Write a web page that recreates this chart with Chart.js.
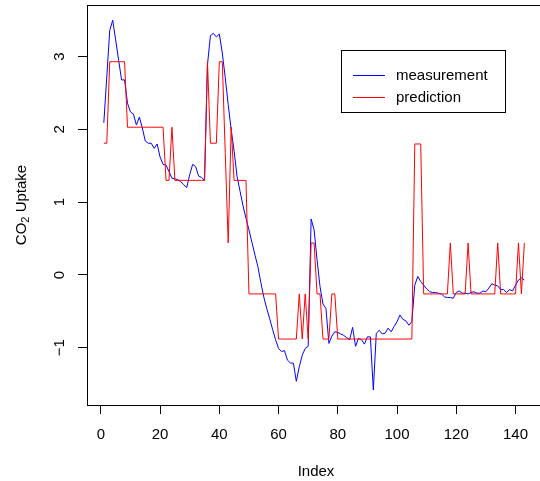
<!DOCTYPE html>
<html>
<head>
<meta charset="utf-8">
<script src="https://cdn.jsdelivr.net/npm/chart.js@4/dist/chart.umd.min.js"></script>
<style>
    html, body { margin: 0; padding: 0; background: #fff; }
    #wrap { width: 540px; height: 481px; position: relative; }
</style>
</head>
<body>
<div id="wrap"><canvas id="chart"></canvas></div>
<script>
/* ============================
   Datos
============================ */
const FONT = '"Liberation Sans", Arial, Helvetica, sans-serif'

const X_TICKS = [0, 20, 40, 60, 80, 100, 120, 140]
const Y_TICKS = [-1, 0, 1, 2, 3]

const MEASUREMENT = [
    2.09, 2.72, 3.36, 3.50, 3.23, 2.95, 2.68, 2.68, 2.36, 2.24,
    2.21, 2.06, 2.17, 2.02, 1.84, 1.81, 1.81, 1.74, 1.80, 1.62,
    1.52, 1.51, 1.42, 1.33, 1.32, 1.31, 1.28, 1.24, 1.20, 1.38,
    1.52, 1.49, 1.36, 1.34, 1.30, 2.89, 3.29, 3.32, 3.27, 3.31,
    3.05, 2.71, 2.34, 2.00, 1.70, 1.35, 1.15, 0.95, 0.78, 0.62,
    0.45, 0.28, 0.12, -0.10, -0.30, -0.46, -0.60, -0.75, -0.89, -1.01,
    -1.05, -1.04, -1.17, -1.21, -1.21, -1.46, -1.26, -1.10, -1.01, -0.98,
    0.77, 0.62, 0.21, -0.16, -0.40, -0.46, -0.94, -0.84, -0.78, -0.79,
    -0.81, -0.83, -0.86, -0.89, -0.72, -0.98, -0.87, -0.89, -0.95, -0.85,
    -0.85, -1.58, -0.80, -0.76, -0.81, -0.80, -0.73, -0.78, -0.71, -0.64,
    -0.55, -0.61, -0.63, -0.69, -0.64, -0.14, -0.02, -0.09, -0.14, -0.19,
    -0.23, -0.24, -0.24, -0.25, -0.26, -0.30, -0.31, -0.31, -0.32, -0.24,
    -0.22, -0.25, -0.25, -0.26, -0.24, -0.23, -0.25, -0.25, -0.22, -0.23,
    -0.18, -0.12, -0.14, -0.15, -0.20, -0.20, -0.24, -0.20, -0.22, -0.14,
    -0.07, -0.04, -0.07
]

const PREDICTION = [
    1.81, 1.81, 2.93, 2.93, 2.93, 2.93, 2.93, 2.93, 2.03, 2.03,
    2.03, 2.03, 2.03, 2.03, 2.03, 2.03, 2.03, 2.03, 2.03, 2.03,
    2.03, 1.30, 1.30, 2.03, 1.30, 1.30, 1.30, 1.30, 1.30, 1.30,
    1.30, 1.30, 1.30, 1.30, 1.30, 2.93, 1.81, 1.81, 1.81, 2.93,
    2.93, 1.68, 0.44, 2.03, 1.30, 1.30, 1.30, 1.30, 1.30, -0.26,
    -0.26, -0.26, -0.26, -0.26, -0.26, -0.26, -0.26, -0.26, -0.26, -0.88,
    -0.88, -0.88, -0.88, -0.88, -0.88, -0.88, -0.26, -0.88, -0.26, -0.88,
    0.44, 0.44, -0.26, -0.26, -0.88, -0.88, -0.88, -0.26, -0.26, -0.88,
    -0.88, -0.88, -0.88, -0.88, -0.88, -0.88, -0.88, -0.88, -0.88, -0.88,
    -0.88, -0.88, -0.88, -0.88, -0.88, -0.88, -0.88, -0.88, -0.88, -0.88,
    -0.88, -0.88, -0.88, -0.88, -0.88, 1.80, 1.80, 1.80, -0.26, -0.26,
    -0.26, -0.26, -0.26, -0.26, -0.26, -0.26, -0.26, 0.44, -0.26, -0.26,
    -0.26, -0.26, -0.26, 0.44, -0.26, -0.26, -0.26, -0.26, -0.26, -0.26,
    -0.26, -0.26, -0.26, 0.44, -0.26, -0.26, -0.26, -0.26, -0.26, -0.26,
    0.44, -0.26, 0.44
]

const INDEX = MEASUREMENT.map((_, i) => i + 1)

const fmt = v => (v < 0 ? '\u2212' + Math.abs(v) : String(v))

/* ============================
   Marco estilo R: caja, etiquetas Y, títulos, leyenda
============================ */
const rFrame = {
    id: 'rFrame',
    afterDraw(chart) {
        const { ctx, chartArea: a, scales: { y } } = chart
        ctx.save()
        ctx.strokeStyle = '#000'
        ctx.lineWidth = 1
        ctx.strokeRect(a.left + 0.5, a.top + 0.5, a.right - a.left + 10, a.bottom - a.top)

        ctx.fillStyle = '#000'
        ctx.font = `15px ${FONT}`
        ctx.textAlign = 'center'
        ctx.textBaseline = 'middle'

        // etiquetas eje Y (rotadas como en R)
        Y_TICKS.forEach(v => {
            ctx.save()
            ctx.translate(60, y.getPixelForValue(v))
            ctx.rotate(-Math.PI / 2)
            ctx.fillText(fmt(v), 0, 0)
            ctx.restore()
        })

        // título eje X
        ctx.fillText('Index', 316, 472)

        // título eje Y: CO2 Uptake con subíndice
        ctx.save()
        ctx.translate(22, (a.top + a.bottom) / 2)
        ctx.rotate(-Math.PI / 2)
        ctx.textAlign = 'left'
        const big = `15px ${FONT}`
        const small = `11px ${FONT}`
        ctx.font = big
        const wCO = ctx.measureText('CO').width
        const wRest = ctx.measureText(' Uptake').width
        ctx.font = small
        const w2 = ctx.measureText('2').width
        const x0 = -(wCO + w2 + wRest) / 2
        ctx.font = big
        ctx.fillText('CO', x0, 0)
        ctx.font = small
        ctx.fillText('2', x0 + wCO, 4)
        ctx.font = big
        ctx.fillText(' Uptake', x0 + wCO + w2, 0)
        ctx.restore()

        // leyenda
        ctx.strokeStyle = '#000'
        ctx.strokeRect(341.5, 50.5, 164, 62)
        const items = [
            { label: 'measurement', color: '#0000ff', yy: 75.5 },
            { label: 'prediction', color: '#ff0000', yy: 97.5 }
        ]
        ctx.textAlign = 'left'
        items.forEach(it => {
            ctx.strokeStyle = it.color
            ctx.beginPath()
            ctx.moveTo(353, it.yy)
            ctx.lineTo(385, it.yy)
            ctx.stroke()
            ctx.fillText(it.label, 396, it.yy)
        })
        ctx.restore()
    }
}

/* ============================
   Chart
============================ */
document.addEventListener('DOMContentLoaded', () => {
    const ctx = document.getElementById('chart').getContext('2d')
    new Chart(ctx, {
        type: 'line',
        data: {
            datasets: [
                {
                    label: 'measurement',
                    data: INDEX.map((x, i) => ({ x, y: MEASUREMENT[i] })),
                    borderColor: '#0000ff',
                    borderWidth: 1,
                    pointRadius: 0,
                    tension: 0,
                    order: 1
                },
                {
                    label: 'prediction',
                    data: INDEX.map((x, i) => ({ x, y: PREDICTION[i] })),
                    borderColor: '#ff0000',
                    borderWidth: 1,
                    pointRadius: 0,
                    tension: 0,
                    order: 0
                }
            ]
        },
        options: {
            responsive: true,
            maintainAspectRatio: false,
            animation: false,
            layout: { padding: { top: 5, left: 0, right: 0, bottom: 0 } },
            plugins: { legend: { display: false }, tooltip: { enabled: false } },
            scales: {
                x: {
                    type: 'linear',
                    min: -4.68,
                    max: 147.3,
                    afterBuildTicks: s => { s.ticks = X_TICKS.map(v => ({ value: v })) },
                    afterFit: s => { s.height = 76 },
                    grid: { display: true, drawOnChartArea: false, drawTicks: true, tickLength: 9, color: '#000' },
                    border: { display: false },
                    ticks: {
                        color: '#000',
                        font: { family: FONT, size: 15 },
                        padding: 12,
                        maxRotation: 0,
                        autoSkip: false
                    }
                },
                y: {
                    type: 'linear',
                    min: -1.786,
                    max: 3.709,
                    afterBuildTicks: s => { s.ticks = Y_TICKS.map(v => ({ value: v })) },
                    afterFit: s => { s.width = 87 },
                    grid: { display: true, drawOnChartArea: false, drawTicks: true, tickLength: 9, color: '#000' },
                    border: { display: false },
                    ticks: { display: false }
                }
            }
        },
        plugins: [rFrame]
    })
})
</script>
</body>
</html>
